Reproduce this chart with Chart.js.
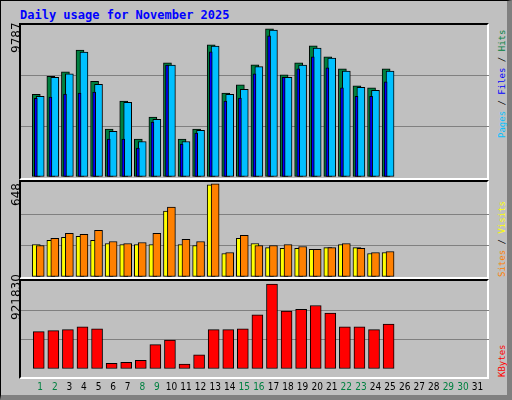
<!DOCTYPE html>
<html>
<head>
<meta charset="utf-8">
<script src="https://cdn.jsdelivr.net/npm/chart.js@4/dist/chart.umd.min.js"></script>
<style>
body { margin: 0; background: #fff; }
#box { position: absolute; left: 0; top: 0; width: 506px; height: 394px; background: #c0c0c0;
  border: 1px solid #000; border-right: 5px solid #808080; border-bottom: 5px solid #808080; }
.panel { position: absolute; left: 19px; width: 470px; border-top: 2px solid #000; border-left: 2px solid #000;
  border-right: 2px solid #fff; border-bottom: 2px solid #fff; box-sizing: border-box; }
canvas { position: absolute; }
.t { position: absolute; font: bold 12px "DejaVu Sans Mono", monospace; color: #0000ff; }
.rl { position: absolute; transform-origin: left top; transform: rotate(-90deg); white-space: nowrap;
  font: 12px "DejaVu Sans", sans-serif; color: #000; }
.rr { position: absolute; transform-origin: left top; transform: rotate(-90deg); white-space: nowrap;
  font: 9px "DejaVu Sans Mono", monospace; }
</style>
</head>
<body>
<div id="box"></div>
<div class="t" style="left:20px;top:8px">Daily usage for November 2025</div>
<div class="panel" style="top:23px;height:157px"></div>
<div class="panel" style="top:180px;height:99px"></div>
<div class="panel" style="top:279px;height:100px"></div>
<canvas id="c1" style="left:21px;top:25px" width="468" height="152"></canvas>
<canvas id="c2" style="left:21px;top:183px" width="468" height="94"></canvas>
<canvas id="c3" style="left:21px;top:281px" width="468" height="116"></canvas>
<div class="rl" style="left:9px;top:53px">9787</div>
<div class="rl" style="left:9px;top:206px">648</div>
<div class="rl" style="left:9px;top:320px">921830</div>
<div class="rr" style="left:497px;top:138px"><span style="color:#00c0ff">Pages</span> / <span style="color:#0000ff">Files</span> / <span style="color:#008040">Hits</span></div>
<div class="rr" style="left:497px;top:277px"><span style="color:#ff8000">Sites</span> / <span style="color:#ffff00">Visits</span></div>
<div class="rr" style="left:497px;top:377px"><span style="color:#ff0000">KBytes</span></div>
<script>
// valores
let dias = [1,2,3,4,5,6,7,8,9,10,11,12,13,14,15,16,17,18,19,20,21,22,23,24,25];
let hits = [5326,6490,6770,8170,6167,3083,4893,2437,3859,7350,2437,3083,8513,5411,5928,7221,9548,6574,7350,8449,7738,6962,5863,5734,6962];
let files = [5197,6425,6639,8041,5973,2935,4809,2288,3710,7201,2288,2999,8429,5326,5650,7110,9463,6425,7201,8300,7653,6813,5779,5585,6813];
let pages = [5068,5152,5346,5410,5475,2437,2437,1855,3536,7201,2114,2825,8061,4893,5087,6638,9095,6425,6962,7737,7026,5734,5197,5197,6121];
let sites = [224,252,273,280,252,231,224,224,224,454,224,217,636,162,266,231,203,197,197,190,203,224,203,162,169];
let visits = [217,266,301,294,322,245,231,238,301,482,259,245,643,169,287,217,217,224,210,190,203,231,197,169,176];
let kbytes = [392000,402000,412000,441000,421000,60000,70000,90000,256000,304000,51000,148000,412000,412000,421000,568000,890000,607000,626000,665000,587000,441000,441000,412000,470000];
let fimDeSemana = [1,2,8,9,15,16,22,23,29,30];

function pontos(vals, desloc) {
    return vals.map((v, i) => ({ x: dias[i] + desloc, y: v }));
}

function serie(vals, desloc, cor, larg, ordem) {
    return { data: pontos(vals, desloc), backgroundColor: cor, borderColor: "#000", borderWidth: 1,
        borderSkipped: false, barThickness: larg, grouped: false, order: ordem };
}

function config(datasets, max, mostrarX) {
    return {
        type: "bar",
        data: { datasets: datasets },
        options: {
            animation: false, responsive: false,
            layout: { padding: 0 },
            plugins: { legend: { display: false }, tooltip: { enabled: false } },
            scales: {
                x: {
                    type: "linear", min: 0.2, max: 31.27, display: mostrarX,
                    grid: { display: false }, border: { display: false },
                    afterBuildTicks: s => { s.ticks = []; for (let d = 1; d <= 31; d++) s.ticks.push({ value: d }); },
                    ticks: {
                        autoSkip: false, maxRotation: 0, padding: 4,
                        font: { family: "DejaVu Sans Condensed", size: 10 },
                        color: c => fimDeSemana.includes(c.tick.value) ? "#008040" : "#000"
                    }
                },
                y: {
                    min: 0, max: max,
                    afterBuildTicks: s => { s.ticks = [0, max / 3, 2 * max / 3, max].map(v => ({ value: v })); },
                    afterFit: s => { s.width = 0; },
                    ticks: { display: false },
                    border: { display: false },
                    grid: { drawTicks: false, lineWidth: 1,
                        color: c => (c.index === 1 || c.index === 2) ? "#808080" : "rgba(0,0,0,0)" }
                }
            }
        }
    };
}

new Chart(document.getElementById("c1"), config([
    serie(hits, -0.27, "#008040", 8, 3),
    serie(files, 0, "#00c0ff", 8, 2),
    serie(pages, -0.3, "#0000ff", 3, 1)
], 9787, false));

new Chart(document.getElementById("c2"), config([
    serie(sites, -0.27, "#ffff00", 8, 2),
    serie(visits, 0, "#ff8000", 8, 1)
], 648, false));

new Chart(document.getElementById("c3"), config([
    serie(kbytes, -0.1, "#ff0000", 11, 1)
], 921830, true));
</script>
</body>
</html>
